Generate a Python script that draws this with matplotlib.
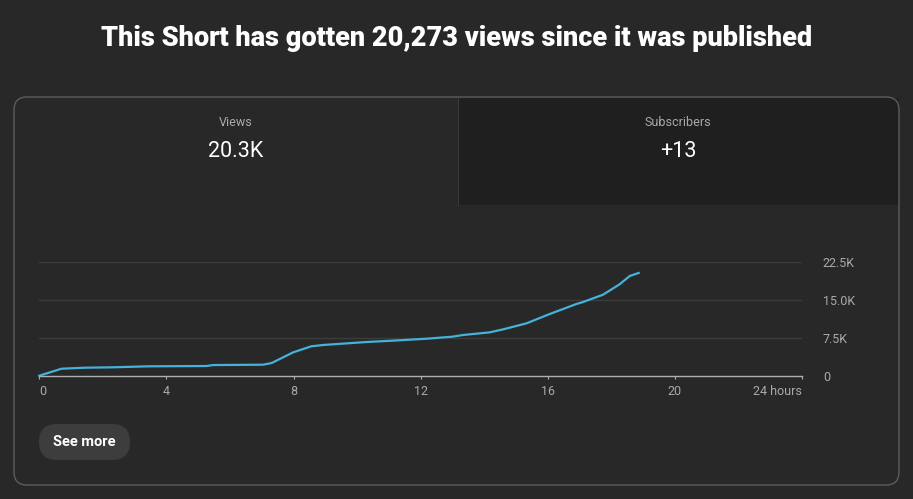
import matplotlib
matplotlib.use('Agg')
import matplotlib.pyplot as plt
from matplotlib.patches import FancyBboxPatch, Rectangle

# views over the first hours after publishing
hours = [0, 0.70, 1.44, 2.28, 3.43, 5.26, 5.47, 7.04, 7.31, 7.99, 8.56, 8.93,
         10.3, 11.34, 12.18, 13.0, 13.33, 14.17, 14.59, 15.33, 16.06, 16.9,
         17.11, 17.74, 18.26, 18.58, 18.86]
views = [0, 1380, 1580, 1650, 1850, 1910, 2100, 2170, 2500, 4610, 5800, 6060,
         6650, 6990, 7300, 7700, 8030, 8550, 9140, 10330, 12170, 14150,
         14540, 15990, 18040, 19680, 20273]

x_ticks = [0, 4, 8, 12, 16, 20, 24]
x_labels = ['0', '4', '8', '12', '16', '20', '24 hours']
y_ticks = [0, 7500, 15000, 22500]
y_labels = ['0', '7.5K', '15.0K', '22.5K']

title = 'This Short has gotten 20,273 views since it was published'
cards = [('Views', '20.3K'), ('Subscribers', '+13')]

bg = '#282828'
plt.rcParams['font.family'] = ['Roboto', 'DejaVu Sans']

W, H = 913, 499
fig = plt.figure(figsize=(W / 100, H / 100), dpi=100, facecolor=bg)

# background layer in pixel coordinates
bgax = fig.add_axes([0, 0, 1, 1])
bgax.set_xlim(0, W)
bgax.set_ylim(H, 0)
bgax.axis('off')
bgax.set_facecolor(bg)

bgax.text(W / 2 + 0.5, 38.5, title, ha='center', va='center', color='white',
          fontsize=19.5, fontweight='black')

# right tab (darker) and panel border
bgax.add_patch(Rectangle((458, 98), 441, 107, facecolor='#1f1f1f',
                         edgecolor='none'))
bgax.plot([458, 458], [98, 205], color='#3a3a3a', lw=0.8)
bgax.add_patch(FancyBboxPatch((14, 97), 885, 388,
                              boxstyle='round,pad=0,rounding_size=13',
                              facecolor='none', edgecolor='#5c5c5c', lw=1))

for cx, (name, val) in zip([236, 678], cards):
    bgax.text(cx, 122.5, name, ha='center', va='center', color='#aaaaaa',
              fontsize=9)
    bgax.text(cx, 151.5, val, ha='center', va='center', color='white',
              fontsize=15.5)

# see more button
bgax.add_patch(FancyBboxPatch((39, 424), 91, 36,
                              boxstyle='round,pad=0,rounding_size=18',
                              facecolor='#3d3d3d', edgecolor='none'))
bgax.text(84.5, 441.5, 'See more', ha='center', va='center', color='white',
          fontsize=10.5, fontweight='bold')

# chart
x0, x1 = 39.3, 802
y0, y1 = 375.7, 261.7
ax = fig.add_axes([x0 / W, 1 - y0 / H, (x1 - x0) / W, (y0 - y1) / H])
ax.patch.set_alpha(0)
ax.set_xlim(0, 24)
ax.set_ylim(0, 22500)
for s in ax.spines.values():
    s.set_visible(False)
ax.spines['bottom'].set_visible(True)
ax.spines['bottom'].set_color('#b0b0b0')
ax.spines['bottom'].set_linewidth(1)
for yv in y_ticks[1:]:
    ax.axhline(yv, color='#3c3c3c', lw=1, zorder=0)
ax.plot(hours, views, color='#45b2da', lw=1.6, clip_on=False,
        solid_joinstyle='round', zorder=3)

ax.set_xticks(x_ticks)
ax.set_xticklabels(x_labels)
ax.tick_params(axis='x', colors='#b0b0b0', labelcolor='#aaaaaa',
               labelsize=9, length=2, pad=5)
ax.get_xticklabels()[0].set_ha('left')
ax.get_xticklabels()[-1].set_ha('right')

ax.yaxis.tick_right()
ax.set_yticks(y_ticks)
ax.set_yticklabels(y_labels)
ax.tick_params(axis='y', labelcolor='#aaaaaa', labelsize=9, length=0,
               pad=15)

fig.savefig('out.png', dpi=100, facecolor=bg)
